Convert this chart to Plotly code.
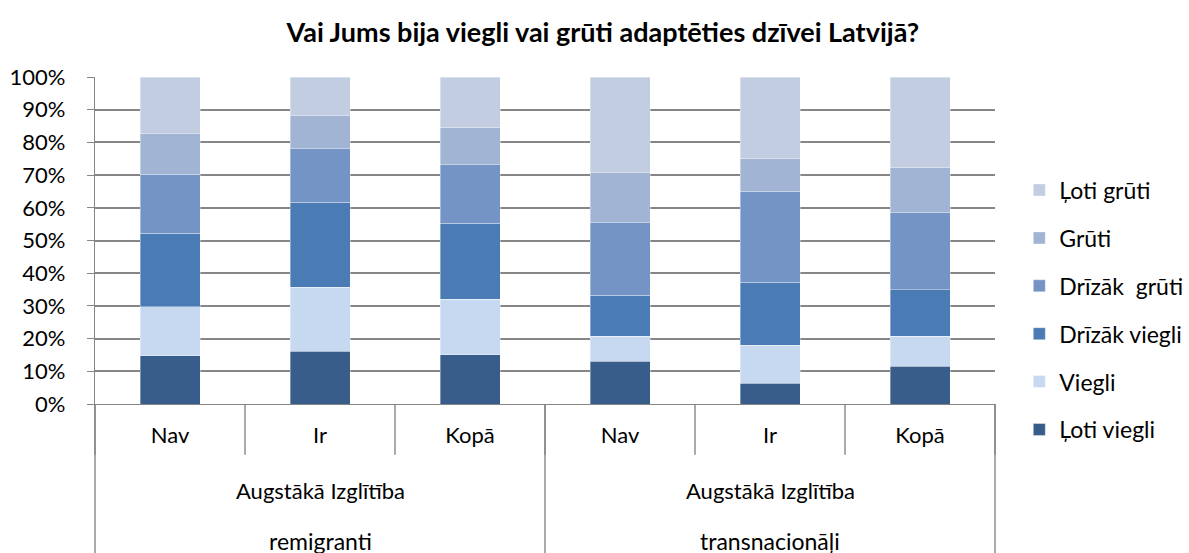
import plotly.graph_objects as go

# ---- data ----
groups = ["Augstākā Izglītība<br>remigranti", "Augstākā Izglītība<br>transnacionāļi"]
subcats = ["Nav", "Ir", "Kopā", "Nav", "Ir", "Kopā"]
cat_ids = ["rem_Nav", "rem_Ir", "rem_Kopa", "tr_Nav", "tr_Ir", "tr_Kopa"]

series_names = ["Ļoti viegli", "Viegli", "Drīzāk viegli", "Drīzāk  grūti", "Grūti", "Ļoti grūti"]
loti_viegli   = [14.8, 16.2, 15.1, 13.0, 6.4, 11.6]
viegli        = [15.0, 19.5, 16.9, 7.7, 11.6, 9.1]
drizak_viegli = [22.4, 26.0, 23.3, 12.6, 19.3, 14.2]
drizak_gruti  = [18.1, 16.3, 17.8, 22.1, 27.8, 23.8]
gruti         = [12.3, 10.1, 11.5, 15.5, 10.1, 13.5]
loti_gruti    = [17.4, 11.9, 15.4, 29.1, 24.8, 27.8]
series_values = [loti_viegli, viegli, drizak_viegli, drizak_gruti, gruti, loti_gruti]
colors = ["#385D8A", "#C6D9F1", "#4A7BB5", "#7394C5", "#A1B4D4", "#C2CDE1"]

yticks = [0, 10, 20, 30, 40, 50, 60, 70, 80, 90, 100]
ytick_text = [f"{v}%" for v in yticks]

FONT = "Lato"
FS = 22
GRID = "#868686"

fig = go.Figure()
n = len(series_names)
for i, (name, vals, col) in enumerate(zip(series_names, series_values, colors)):
    fig.add_trace(go.Bar(
        x=cat_ids, y=vals, name=name, legendgroup=name, legendrank=n - i,
        marker=dict(color=col, line=dict(color="rgba(255,255,255,0.45)", width=0.8)),
    ))

shapes = []
# inner dividers (between sub-categories)
for k in range(7):
    shapes.append(dict(type="line", xref="x domain", yref="paper",
                       x0=k / 6, x1=k / 6, y0=0, y1=-0.155,
                       line=dict(color=GRID, width=1.4)))
# outer dividers (between groups)
for k in [0, 3, 6]:
    shapes.append(dict(type="line", xref="x domain", yref="paper",
                       x0=k / 6, x1=k / 6, y0=0, y1=-0.46,
                       line=dict(color=GRID, width=1.4)))

annotations = []
for gi, g in enumerate(groups):
    line1, line2 = g.split("<br>")
    annotations.append(dict(
        x=gi * 3 + 1, xref="x", y=0, yref="paper", yanchor="middle",
        yshift=-86, showarrow=False, text=line1,
        font=dict(family=FONT, size=FS, color="#000000")))
    annotations.append(dict(
        x=gi * 3 + 1, xref="x", y=0, yref="paper", yanchor="middle",
        yshift=-137, showarrow=False, text=line2,
        font=dict(family=FONT, size=FS + 1, color="#000000")))

fig.update_layout(
    width=1189, height=553,
    margin=dict(l=95, r=194, t=77, b=149, autoexpand=False),
    paper_bgcolor="white", plot_bgcolor="white",
    barmode="stack", bargap=0.6,
    title=dict(text="<b>Vai Jums bija viegli vai grūti adaptēties dzīvei Latvijā?</b>",
               x=0.507, xanchor="center", y=0.942, yanchor="middle",
               font=dict(family=FONT, size=27, color="#000000")),
    font=dict(family=FONT, size=FS, color="#000000"),
    xaxis=dict(
        type="category", tickmode="array", tickvals=cat_ids, ticktext=subcats,
        showline=True, linecolor=GRID, linewidth=1.4, ticks="", showgrid=False,
        ticklabelstandoff=11, tickfont=dict(family=FONT, size=FS, color="#000000"),
        fixedrange=True,
    ),
    yaxis=dict(
        range=[0, 100], tickmode="array", tickvals=yticks, ticktext=ytick_text,
        showline=True, linecolor=GRID, linewidth=1.4,
        ticks="outside", ticklen=7, tickcolor=GRID, tickwidth=1.4,
        showgrid=True, gridcolor=GRID, gridwidth=1.5,
        ticklabelstandoff=17, tickfont=dict(family=FONT, size=FS, color="#000000"),
        zeroline=False,
    ),
    legend=dict(
        x=1.027, xanchor="left", y=0.72, yanchor="top",
        traceorder="grouped", tracegroupgap=15,
        font=dict(family=FONT, size=23, color="#000000"),
        bgcolor="rgba(0,0,0,0)",
    ),
    shapes=shapes,
    annotations=annotations,
    showlegend=True,
)

fig.write_html("out.html", config={"displayModeBar": False},
               post_script="document.body.style.margin='0';")
